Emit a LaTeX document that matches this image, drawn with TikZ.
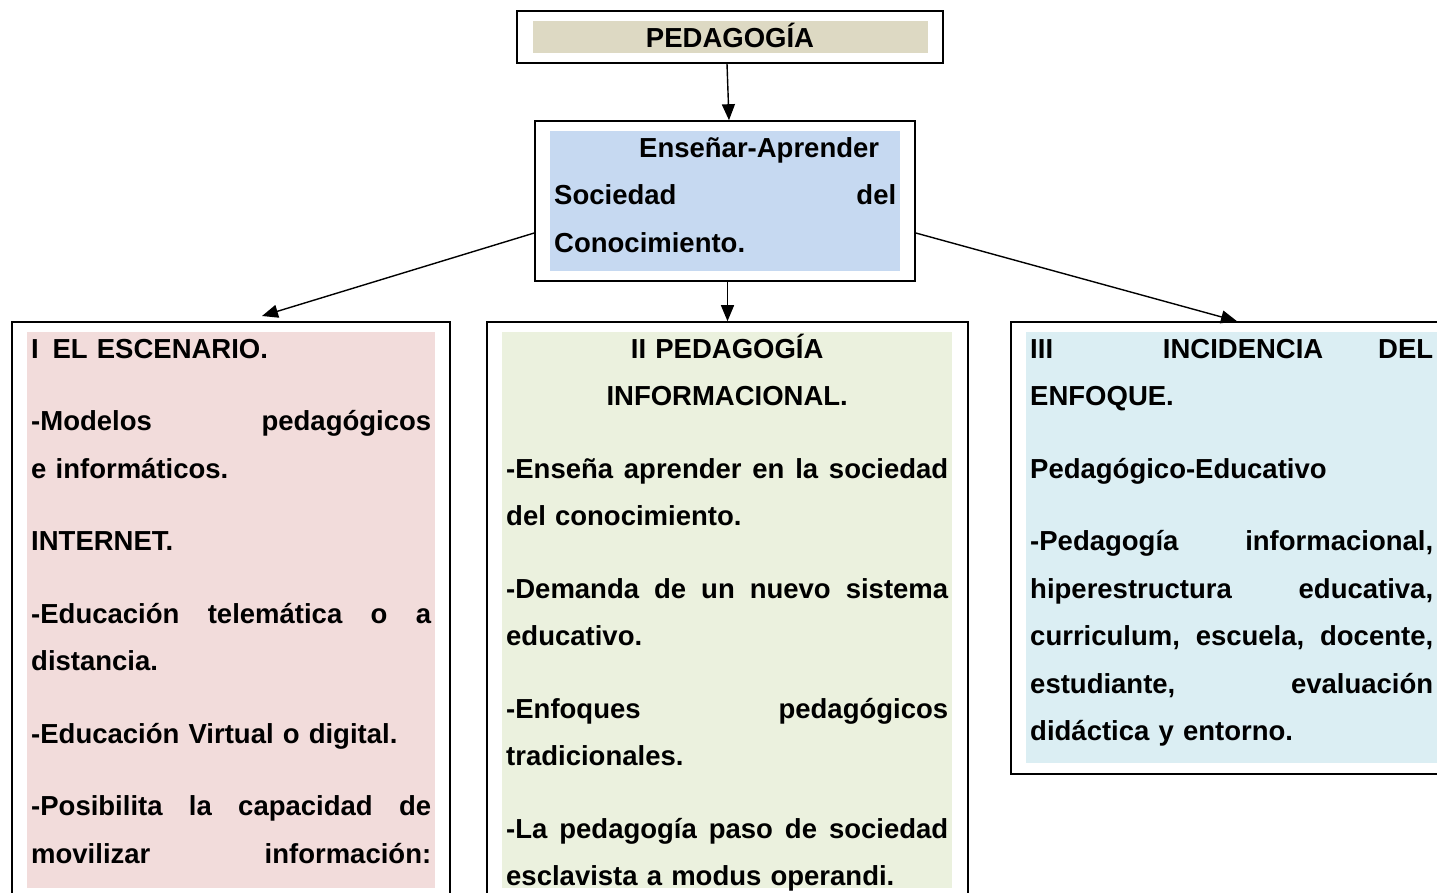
\documentclass[tikz,border=0pt]{standalone}
\usepackage{fontspec}
\setmainfont{Liberation Sans}
\usetikzlibrary{arrows.meta}
\definecolor{tanfill}{HTML}{DDD9C3}
\definecolor{bluefill}{HTML}{C6D9F1}
\definecolor{pinkfill}{HTML}{F2DCDB}
\definecolor{greenfill}{HTML}{EBF1DE}
\definecolor{cyanfill}{HTML}{DBEEF3}
\newcommand\jline[2]{\makebox[#1][s]{\spaceskip=\fontdimen2\font plus 1fil\relax #2}}
\newcommand\cenline[2]{\makebox[#1][c]{#2}}
\begin{document}
\begin{tikzpicture}[x=1pt,y=-1pt,
  frame/.style={draw=black, line width=1.6pt, inner sep=0pt, rectangle},
  txt/.style={font=\fontsize{27.5pt}{47.5pt}\selectfont\bfseries, inner sep=0pt, align=left, anchor=base west},
  arr/.style={line width=1.4pt, -{Triangle[length=16pt,width=13pt]}}]

\useasboundingbox (0,0) rectangle (1437,892);
\clip (0,0) rectangle (1437,892);

% coloured fills
\fill[tanfill] (533,21) rectangle (928,53);
\fill[bluefill] (550,131) rectangle (900,271);
\fill[pinkfill] (27,332) rectangle (435,888);
\fill[greenfill] (502,332) rectangle (952,888);
\fill[cyanfill] (1026,332) rectangle (1460,763);

% frames
\node[frame, minimum width=426pt, minimum height=52pt] (top) at (730,37) {};
\node[frame, minimum width=380pt, minimum height=160pt] (b2) at (725,201) {};
\node[frame, minimum width=438pt, minimum height=588pt] (L) at (231,616) {};
\node[frame, minimum width=481pt, minimum height=588pt] (M) at (727.5,616) {};
\node[frame, minimum width=449pt, minimum height=452pt] (R) at (1235.5,548) {};

% texts
\node[txt, anchor=base] (ttop) at (730,47) {PEDAGOGÍA};

\node[txt, text width=342pt] (t2) at (554,157)
  {\hspace*{85pt}Enseñar-Aprender\\
   \jline{342pt}{Sociedad del}\\
   Conocimiento.};

\node[txt, text width=400pt] (tL) at (31,358)
  {I~\,EL ESCENARIO.\\[25pt]
   \jline{400pt}{-Modelos pedagógicos}\\
   e informáticos.\\[25pt]
   INTERNET.\\[25pt]
   \jline{400pt}{-Educación telemática o a}\\
   distancia.\\[25pt]
   -Educación Virtual o digital.\\[25pt]
   \jline{400pt}{-Posibilita la capacidad de}\\
   \jline{400pt}{movilizar información:}};

\node[txt, text width=442pt] (tM) at (506,358)
  {\cenline{442pt}{II PEDAGOGÍA}\\
   \cenline{442pt}{INFORMACIONAL.}\\[25pt]
   \jline{442pt}{-Enseña aprender en la sociedad}\\
   del conocimiento.\\[25pt]
   \jline{442pt}{-Demanda de un nuevo sistema}\\
   educativo.\\[25pt]
   \jline{442pt}{-Enfoques pedagógicos}\\
   tradicionales.\\[25pt]
   \jline{442pt}{-La pedagogía paso de sociedad}\\
   esclavista a modus operandi.};

\node[txt, text width=403pt] (tR) at (1030,358)
  {\jline{403pt}{III~ INCIDENCIA DEL}\\
   ENFOQUE.\\[25pt]
   Pedagógico-Educativo\\[25pt]
   \jline{403pt}{-Pedagogía informacional,}\\
   \jline{403pt}{hiperestructura educativa,}\\
   \jline{403pt}{curriculum, escuela, docente,}\\
   \jline{403pt}{estudiante, evaluación}\\
   didáctica y entorno.};

% connectors
\coordinate (tipL) at (262,316);
\draw[arr] ([xshift=-3pt]top.south) -- ([xshift=4pt]b2.north);
\draw[arr] ([yshift=-32pt]b2.west) -- (tipL);
\draw[arr] (b2.south -| M.north) -- (M.north);
\draw[arr] ([yshift=-32pt]b2.east) -- ([xshift=1.5pt]R.north);
\end{tikzpicture}
\end{document}
